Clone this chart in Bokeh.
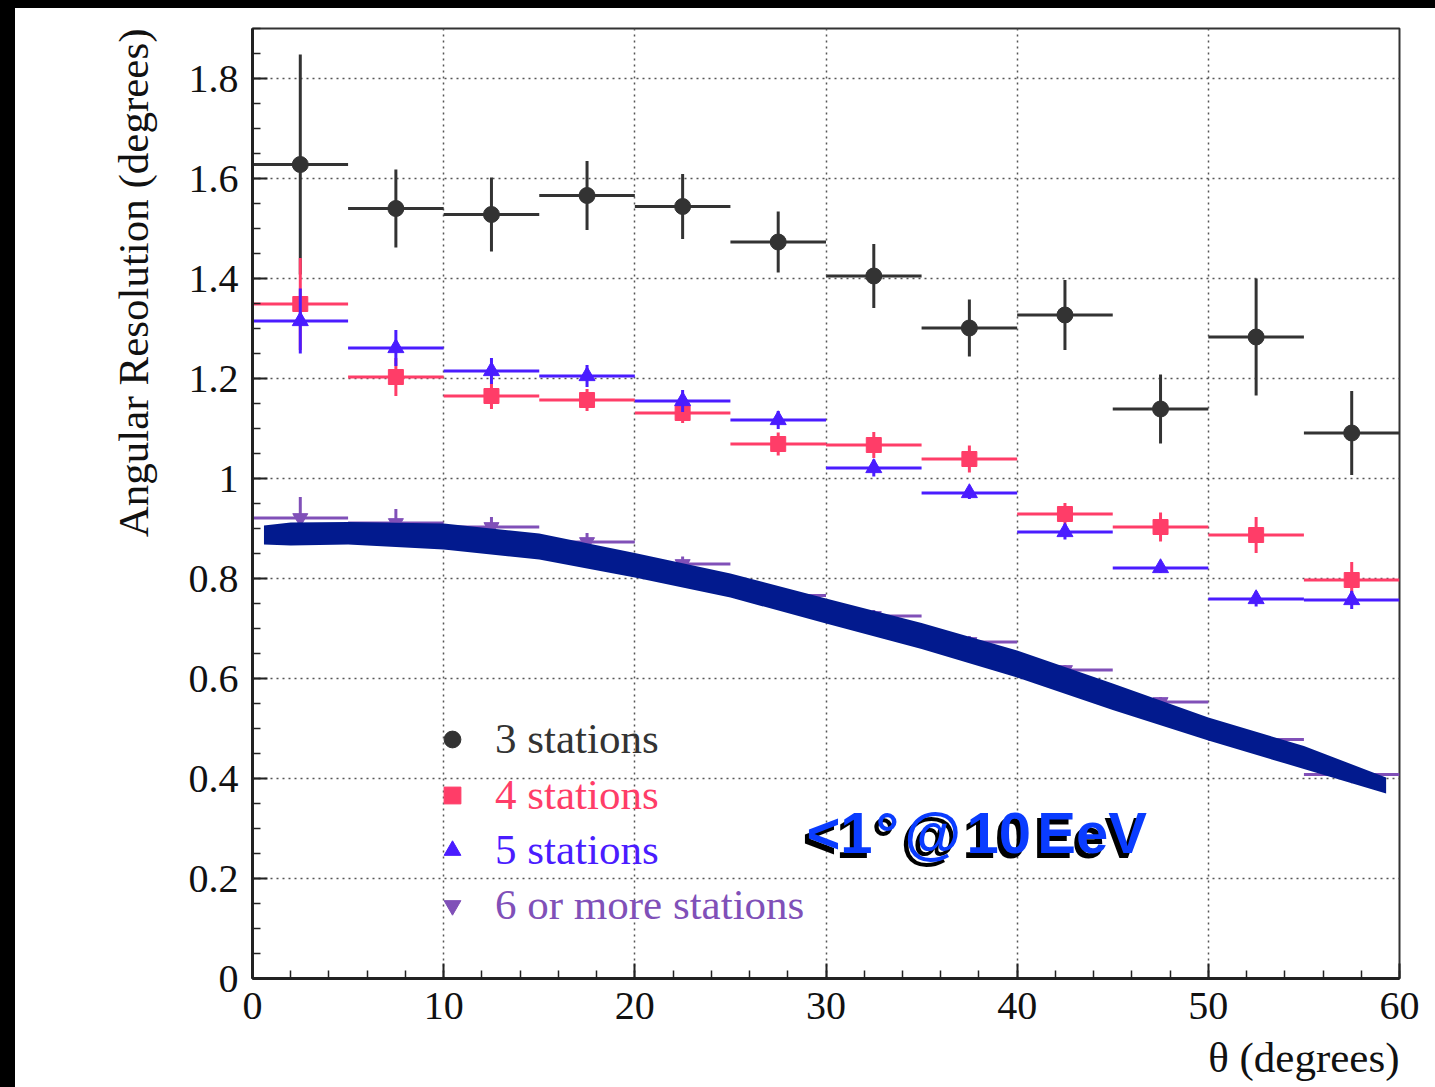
from bokeh.plotting import figure
from bokeh.layouts import row, column
from bokeh.models import (ColumnDataSource, Legend, LegendItem, Title, FixedTicker,
                          CustomJSTickFormatter, Label, Spacer)
from bokeh.embed import file_html
from bokeh.resources import INLINE

# ---------------- data ----------------
theta = [2.5, 7.5, 12.5, 17.5, 22.5, 27.5, 32.5, 37.5, 42.5, 47.5, 52.5, 57.5]
bin_half = 2.5

res3 = [1.628, 1.540, 1.528, 1.566, 1.544, 1.473, 1.405, 1.301, 1.327, 1.139, 1.283, 1.091]
err3 = [0.220, 0.078, 0.074, 0.069, 0.065, 0.061, 0.064, 0.057, 0.070, 0.069, 0.117, 0.084]

res4 = [1.349, 1.203, 1.165, 1.157, 1.131, 1.069, 1.067, 1.039, 0.929, 0.903, 0.887, 0.797]
err4 = [0.092, 0.038, 0.026, 0.022, 0.020, 0.023, 0.026, 0.027, 0.022, 0.029, 0.036, 0.036]

res5 = [1.315, 1.261, 1.215, 1.205, 1.155, 1.117, 1.021, 0.971, 0.893, 0.821, 0.759, 0.757]
err5 = [0.065, 0.036, 0.026, 0.022, 0.022, 0.018, 0.017, 0.012, 0.015, 0.010, 0.015, 0.018]

res6 = [0.921, 0.911, 0.903, 0.873, 0.829, 0.766, 0.725, 0.673, 0.617, 0.553, 0.478, 0.408]
err6 = [0.042, 0.028, 0.020, 0.018, 0.015, 0.012, 0.012, 0.012, 0.010, 0.010, 0.010, 0.010]

band_theta = [0.6, 2, 5, 10, 15, 20, 25, 30, 35, 40, 45, 50, 55, 59.3]
band_hi = [0.906, 0.912, 0.913, 0.910, 0.890, 0.851, 0.810, 0.760, 0.711, 0.656, 0.590, 0.522, 0.465, 0.402]
band_lo = [0.868, 0.866, 0.868, 0.858, 0.838, 0.802, 0.762, 0.710, 0.659, 0.602, 0.537, 0.476, 0.419, 0.370]

series_names = ["3 stations", "4 stations", "5 stations", "6 or more stations"]
x_ticks = [0, 10, 20, 30, 40, 50, 60]
y_ticks = [0, 0.2, 0.4, 0.6, 0.8, 1.0, 1.2, 1.4, 1.6, 1.8]

# ---------------- figure ----------------
p = figure(frame_width=1147, frame_height=950,
           min_border_left=237, min_border_right=28, min_border_top=20, min_border_bottom=95,
           x_range=(0, 60), y_range=(0, 1.9),
           output_backend="svg", toolbar_location=None)
p.background_fill_color = "white"
p.border_fill_color = "white"
p.outline_line_color = "#333333"
p.outline_line_width = 2

p.xaxis.ticker = FixedTicker(ticks=x_ticks, minor_ticks=list(range(0, 61, 2)))
p.yaxis.ticker = FixedTicker(ticks=y_ticks, minor_ticks=[round(0.05 * i, 2) for i in range(39)])
p.yaxis.formatter = CustomJSTickFormatter(code="return tick.toFixed(1).replace(/\\.0$/, '');")

for ax in (p.xaxis, p.yaxis):
    ax.major_tick_in = 15
    ax.major_tick_out = 0
    ax.minor_tick_in = 8
    ax.minor_tick_out = 0
    ax.axis_line_width = 3
    ax.axis_line_color = "#222222"
    ax.major_tick_line_color = "#222222"
    ax.minor_tick_line_color = "#222222"
    ax.major_tick_line_width = 2
    ax.minor_tick_line_width = 1.5
    ax.major_label_text_font = "Liberation Serif"
    ax.major_label_text_font_size = "40px"
    ax.major_label_text_color = "#111111"
    ax.major_label_standoff = 14

for g in (p.xgrid, p.ygrid):
    g.grid_line_color = "#555555"
    g.grid_line_dash = "2 4"
    g.grid_line_width = 1.5

p.add_layout(Title(text="Angular Resolution (degrees)", align="right", standoff=58,
                   text_font="Liberation Serif", text_font_size="43px",
                   text_font_style="normal", text_color="#111111"), "left")
p.add_layout(Title(text="\u03b8 (degrees)", align="right", standoff=20,
                   text_font="Liberation Serif", text_font_size="43px",
                   text_font_style="normal", text_color="#111111"), "below")

colors = ["#333333", "#ff3d68", "#4a1cff", "#8050b8"]
markers = ["circle", "square", "triangle", "inverted_triangle"]
sizes = [16, 15, 16, 15]
all_res = [res3, res4, res5, res6]
all_err = [err3, err4, err5, err6]

scatter_renderers = []
for res, err, col, mk, sz in zip(all_res, all_err, colors, markers, sizes):
    src = ColumnDataSource(dict(
        x=theta, y=res,
        x0=[t - bin_half for t in theta], x1=[t + bin_half for t in theta],
        ylo=[r - e for r, e in zip(res, err)], yhi=[r + e for r, e in zip(res, err)]))
    p.segment(x0="x0", y0="y", x1="x1", y1="y", source=src, line_color=col, line_width=3)
    p.segment(x0="x", y0="ylo", x1="x", y1="yhi", source=src, line_color=col, line_width=3)
    r = p.scatter(x="x", y="y", source=src, marker=mk, size=sz,
                  fill_color=col, line_color=col)
    scatter_renderers.append(r)

# resolution band
p.varea(x=band_theta, y1=band_lo, y2=band_hi, fill_color="#021a8e")

# legends (one per entry so each label keeps its colour)
legend_y = [215, 159, 104, 49]
for name, r, col, ly in zip(series_names, scatter_renderers, colors, legend_y):
    lg = Legend(items=[LegendItem(label=name, renderers=[r])], location=(179, ly),
                glyph_width=42, glyph_height=42, label_standoff=22, label_height=46,
                label_text_font="Liberation Serif", label_text_font_size="43px",
                label_text_color=col, label_text_baseline="middle",
                background_fill_alpha=0, border_line_alpha=0,
                padding=0, margin=0, spacing=0)
    p.add_layout(lg)

# "<1° @ 10 EeV" annotation (shadow + blue text)
pieces = [("<", 28.98), ("1", 30.75), ("\u00b0", 32.60), ("@", 34.10), ("10", 37.35), ("EeV", 41.05)]
for txt, xx in pieces:
    for dx, dy, c in ((-4, -5, "black"), (0, 0, "#0a3cff")):
        p.add_layout(Label(x=xx, y=0.292, text=txt, x_offset=dx, y_offset=dy,
                           text_font="Liberation Sans", text_font_size="58px",
                           text_font_style="bold", text_color=c,
                           text_baseline="alphabetic", text_align="left"))

left_strip = Spacer(width=15, height=1079, styles={"background-color": "black"})
top_strip = Spacer(width=1435, height=8, styles={"background-color": "black"})
layout = column(top_strip, row(left_strip, p, spacing=0), spacing=0)

open("out.html", "w").write(file_html(layout, INLINE))
